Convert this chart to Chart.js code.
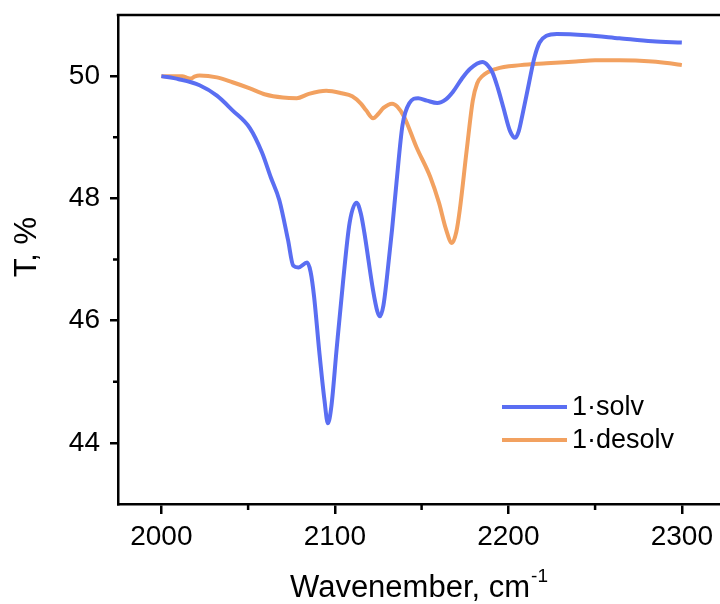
<!DOCTYPE html>
<html>
<head>
<meta charset="utf-8">
<script src="https://cdn.jsdelivr.net/npm/chart.js@4"></script>
<style>
  html, body { margin: 0; padding: 0; background: #fff; overflow: hidden; }
  #wrap { width: 720px; height: 604px; position: relative; }
</style>
</head>
<body>
<div id="wrap"><canvas id="ir"></canvas></div>
<script>
// ─── Spectra (wavenumber, cm-1 → transmittance, %) ───
const solvX = [2000, 2010, 2022, 2032, 2041, 2051, 2058, 2063, 2068, 2073, 2076, 2079, 2084, 2086, 2088,
               2091, 2094, 2096, 2098, 2101, 2104.6, 2108.5, 2112.5, 2115, 2117, 2122, 2124.5, 2126, 2128,
               2130, 2133, 2135.5, 2139, 2143, 2148, 2153, 2159, 2164, 2168, 2173, 2178, 2185, 2188, 2191,
               2194, 2197, 2201, 2204, 2206, 2208, 2212, 2215, 2218, 2222, 2228, 2245, 2264, 2283, 2300];
const solvT = [50.0, 49.95, 49.85, 49.68, 49.44, 49.15, 48.75, 48.35, 47.97, 47.32, 46.9, 46.87, 46.95, 46.8, 46.4,
               45.5, 44.7, 44.32, 44.6, 45.53, 46.6, 47.6, 47.93, 47.75, 47.44, 46.5, 46.15, 46.07, 46.25,
               46.7, 47.5, 48.25, 49.2, 49.56, 49.64, 49.6, 49.56, 49.62, 49.74, 49.95, 50.12, 50.23, 50.18, 50.05,
               49.8, 49.5, 49.1, 48.99, 49.1, 49.35, 49.9, 50.3, 50.55, 50.66, 50.69, 50.67, 50.62, 50.57, 50.55];

const desolvX = [2000, 2012, 2015, 2017, 2019, 2022, 2032, 2041, 2051, 2060, 2070, 2078, 2085, 2095, 2104,
                 2110, 2115, 2118, 2122, 2125, 2128, 2133, 2136, 2140, 2147, 2155, 2160, 2164, 2167.5, 2170,
                 2172, 2176, 2179.5, 2182, 2185, 2193, 2207, 2222, 2239, 2250, 2264, 2283, 2293, 2300];
const desolvT = [50.0, 50.0, 49.97, 49.96, 49.99, 50.01, 49.98, 49.9, 49.8, 49.7, 49.65, 49.64, 49.71, 49.76, 49.72,
                 49.67, 49.55, 49.44, 49.31, 49.38, 49.48, 49.55, 49.5, 49.33, 48.84, 48.35, 47.93, 47.5, 47.27, 47.45,
                 47.81, 48.79, 49.6, 49.88, 50.0, 50.12, 50.18, 50.21, 50.24, 50.26, 50.26, 50.24, 50.21, 50.18];

const seriesNames = ['1·solv', '1·desolv'];
const xMajor = [2000, 2100, 2200, 2300];
const xMinor = [2050, 2150, 2250];
const yMajor = [44, 46, 48, 50];
const yMinor = [45, 47, 49];

const BLUE = '#5a6ef2';
const ORANGE = '#f2a160';
const FONT = '"Liberation Sans", Arial, sans-serif';

Chart.defaults.font.family = FONT;
Chart.defaults.color = '#000';

// minor ticks, top frame line, legend and axis titles
const decor = {
  id: 'decor',
  afterDraw(chart) {
    const { ctx, chartArea: a, scales: { x, y } } = chart;
    ctx.save();
    ctx.strokeStyle = '#000';
    ctx.lineWidth = 2.5;
    ctx.beginPath();
    ctx.moveTo(a.left - 1.25, a.top);
    ctx.lineTo(a.right, a.top);
    xMinor.forEach(v => {
      const px = x.getPixelForValue(v);
      ctx.moveTo(px, a.bottom);
      ctx.lineTo(px, a.bottom + 6);
    });
    yMinor.forEach(v => {
      const py = y.getPixelForValue(v);
      ctx.moveTo(a.left, py);
      ctx.lineTo(a.left - 5, py);
    });
    ctx.stroke();

    // legend
    const items = [[seriesNames[0], BLUE, 407], [seriesNames[1], ORANGE, 440]];
    ctx.font = '27px ' + FONT;
    ctx.textBaseline = 'middle';
    ctx.textAlign = 'left';
    items.forEach(([label, col, ly]) => {
      ctx.strokeStyle = col;
      ctx.lineWidth = 4;
      ctx.beginPath();
      ctx.moveTo(502, ly);
      ctx.lineTo(567, ly);
      ctx.stroke();
      ctx.fillStyle = '#000';
      ctx.fillText(label, 572, ly + 1);
    });

    // y title
    ctx.save();
    ctx.translate(27, 247);
    ctx.rotate(-Math.PI / 2);
    ctx.font = '31px ' + FONT;
    ctx.textAlign = 'center';
    ctx.textBaseline = 'middle';
    ctx.fillText('T, %', 0, 0);
    ctx.restore();

    // x title with superscript
    const main = 'Wavenember, cm';
    const sup = '-1';
    ctx.font = '31px ' + FONT;
    const wMain = ctx.measureText(main).width;
    ctx.font = '19px ' + FONT;
    const wSup = ctx.measureText(sup).width;
    const x0 = (a.left + a.right) / 2 - (wMain + wSup + 1) / 2;
    ctx.textAlign = 'left';
    ctx.textBaseline = 'alphabetic';
    ctx.font = '31px ' + FONT;
    ctx.fillText(main, x0, 597);
    ctx.font = '19px ' + FONT;
    ctx.fillText(sup, x0 + wMain + 1, 582);
    ctx.restore();
  }
};

const pts = (xs, ys) => xs.map((v, i) => ({ x: v, y: ys[i] }));

new Chart(document.getElementById('ir'), {
  type: 'line',
  data: {
    datasets: [
      {
        label: seriesNames[0],
        data: pts(solvX, solvT),
        borderColor: BLUE,
        borderWidth: 4,
        pointRadius: 0,
        cubicInterpolationMode: 'monotone',
        fill: false
      },
      {
        label: seriesNames[1],
        data: pts(desolvX, desolvT),
        borderColor: ORANGE,
        borderWidth: 4,
        pointRadius: 0,
        cubicInterpolationMode: 'monotone',
        fill: false
      }
    ]
  },
  options: {
    responsive: true,
    maintainAspectRatio: false,
    animation: false,
    layout: { padding: { top: 15, right: 0, left: 0, bottom: 0 } },
    plugins: { legend: { display: false }, tooltip: { enabled: false } },
    scales: {
      x: {
        type: 'linear',
        min: 1975,
        max: 2322,
        afterBuildTicks: s => { s.ticks = xMajor.map(v => ({ value: v })); },
        afterFit: s => { s.height = 100; s.paddingLeft = 0; s.paddingRight = 0; },
        ticks: { font: { size: 28 }, padding: 6, maxRotation: 0, autoSkip: false, callback: v => String(v) },
        grid: { drawOnChartArea: false, tickLength: 10, lineWidth: 2.5, color: '#000' },
        border: { color: '#000', width: 2.5 }
      },
      y: {
        type: 'linear',
        min: 43,
        max: 51,
        afterBuildTicks: s => { s.ticks = yMajor.map(v => ({ value: v })); },
        afterFit: s => { s.width = 118; s.paddingTop = 0; s.paddingBottom = 0; },
        ticks: { font: { size: 28 }, padding: 10, autoSkip: false, callback: v => String(v) },
        grid: { drawOnChartArea: false, tickLength: 8, lineWidth: 2.5, color: '#000' },
        border: { color: '#000', width: 2.5 }
      }
    }
  },
  plugins: [decor]
});
</script>
</body>
</html>
